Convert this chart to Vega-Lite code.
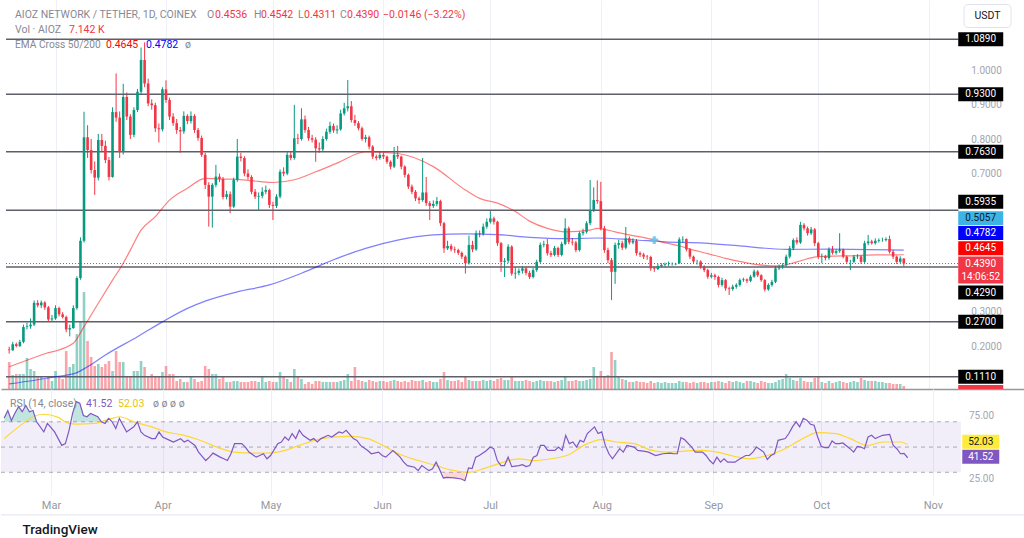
{
"$schema":"https://vega.github.io/schema/vega-lite/v6.json",
"padding":0,
"spacing":0,
"bounds":"flush",
"title":{"text":"TradingView","orient":"bottom","anchor":"start","dx":22,"offset":8,"fontSize":13.5,"fontWeight":500,"color":"#131722","font":"Roboto"},
"config":{"view":{"stroke":null},"font":"Roboto","axis":{"labelFont":"Roboto"},"text":{"align":"left","baseline":"middle","fontSize":10.5}},
"datasets":{
"candles":[
{"d":"2024-02-17","o":0.19,"h":0.198,"l":0.178,"c":0.188,"v":64.8},
{"d":"2024-02-18","o":0.188,"h":0.212,"l":0.186,"c":0.205,"v":33.6},
{"d":"2024-02-19","o":0.205,"h":0.21,"l":0.196,"c":0.2,"v":36},
{"d":"2024-02-20","o":0.2,"h":0.218,"l":0.197,"c":0.212,"v":36},
{"d":"2024-02-21","o":0.212,"h":0.262,"l":0.208,"c":0.255,"v":36},
{"d":"2024-02-22","o":0.255,"h":0.268,"l":0.248,"c":0.257,"v":74.4},
{"d":"2024-02-23","o":0.257,"h":0.28,"l":0.25,"c":0.262,"v":48},
{"d":"2024-02-24","o":0.262,"h":0.332,"l":0.258,"c":0.325,"v":43.2},
{"d":"2024-02-25","o":0.325,"h":0.333,"l":0.312,"c":0.318,"v":28.8},
{"d":"2024-02-26","o":0.318,"h":0.332,"l":0.31,"c":0.326,"v":31.2},
{"d":"2024-02-27","o":0.326,"h":0.33,"l":0.305,"c":0.312,"v":24},
{"d":"2024-02-28","o":0.312,"h":0.316,"l":0.272,"c":0.277,"v":28.8},
{"d":"2024-02-29","o":0.277,"h":0.29,"l":0.27,"c":0.28,"v":19.2},
{"d":"2024-03-01","o":0.28,"h":0.318,"l":0.276,"c":0.31,"v":43.2},
{"d":"2024-03-02","o":0.31,"h":0.314,"l":0.286,"c":0.292,"v":28.8},
{"d":"2024-03-03","o":0.292,"h":0.298,"l":0.28,"c":0.284,"v":24},
{"d":"2024-03-04","o":0.284,"h":0.288,"l":0.24,"c":0.248,"v":91.2},
{"d":"2024-03-05","o":0.248,"h":0.262,"l":0.228,"c":0.252,"v":52.8},
{"d":"2024-03-06","o":0.252,"h":0.318,"l":0.25,"c":0.31,"v":60},
{"d":"2024-03-07","o":0.31,"h":0.402,"l":0.305,"c":0.397,"v":132},
{"d":"2024-03-08","o":0.397,"h":0.515,"l":0.392,"c":0.505,"v":163.2},
{"d":"2024-03-09","o":0.505,"h":0.879,"l":0.5,"c":0.805,"v":232.8},
{"d":"2024-03-10","o":0.805,"h":0.84,"l":0.745,"c":0.768,"v":115.2},
{"d":"2024-03-11","o":0.768,"h":0.8,"l":0.7,"c":0.71,"v":76.8},
{"d":"2024-03-12","o":0.71,"h":0.735,"l":0.638,"c":0.688,"v":55.2},
{"d":"2024-03-13","o":0.688,"h":0.815,"l":0.68,"c":0.797,"v":60},
{"d":"2024-03-14","o":0.797,"h":0.815,"l":0.765,"c":0.78,"v":52.8},
{"d":"2024-03-15","o":0.78,"h":0.795,"l":0.73,"c":0.739,"v":60},
{"d":"2024-03-16","o":0.739,"h":0.748,"l":0.68,"c":0.69,"v":67.2},
{"d":"2024-03-17","o":0.69,"h":0.892,"l":0.688,"c":0.878,"v":43.2},
{"d":"2024-03-18","o":0.878,"h":0.99,"l":0.85,"c":0.862,"v":91.2},
{"d":"2024-03-19","o":0.862,"h":0.88,"l":0.745,"c":0.762,"v":64.8},
{"d":"2024-03-20","o":0.762,"h":0.96,"l":0.755,"c":0.922,"v":64.8},
{"d":"2024-03-21","o":0.922,"h":0.935,"l":0.855,"c":0.865,"v":31.2},
{"d":"2024-03-22","o":0.865,"h":0.872,"l":0.8,"c":0.812,"v":31.2},
{"d":"2024-03-23","o":0.812,"h":0.892,"l":0.805,"c":0.884,"v":43.2},
{"d":"2024-03-24","o":0.884,"h":0.945,"l":0.878,"c":0.937,"v":43.2},
{"d":"2024-03-25","o":0.937,"h":1.065,"l":0.93,"c":1.029,"v":67.2},
{"d":"2024-03-26","o":1.029,"h":1.08,"l":0.95,"c":0.961,"v":52.8},
{"d":"2024-03-27","o":0.961,"h":0.975,"l":0.895,"c":0.903,"v":31.2},
{"d":"2024-03-28","o":0.903,"h":0.915,"l":0.885,"c":0.898,"v":36},
{"d":"2024-03-29","o":0.898,"h":0.905,"l":0.82,"c":0.831,"v":31.2},
{"d":"2024-03-30","o":0.831,"h":0.845,"l":0.79,"c":0.828,"v":28.8},
{"d":"2024-03-31","o":0.828,"h":0.95,"l":0.822,"c":0.944,"v":40.8},
{"d":"2024-04-01","o":0.944,"h":0.97,"l":0.905,"c":0.913,"v":55.2},
{"d":"2024-04-02","o":0.913,"h":0.92,"l":0.855,"c":0.865,"v":36},
{"d":"2024-04-03","o":0.865,"h":0.875,"l":0.838,"c":0.846,"v":36},
{"d":"2024-04-04","o":0.846,"h":0.858,"l":0.815,"c":0.826,"v":19.2},
{"d":"2024-04-05","o":0.826,"h":0.835,"l":0.76,"c":0.822,"v":24},
{"d":"2024-04-06","o":0.822,"h":0.88,"l":0.815,"c":0.867,"v":16.8},
{"d":"2024-04-07","o":0.867,"h":0.872,"l":0.843,"c":0.852,"v":16.8},
{"d":"2024-04-08","o":0.852,"h":0.88,"l":0.845,"c":0.867,"v":28.8},
{"d":"2024-04-09","o":0.867,"h":0.872,"l":0.818,"c":0.826,"v":24},
{"d":"2024-04-10","o":0.826,"h":0.832,"l":0.795,"c":0.803,"v":16.8},
{"d":"2024-04-11","o":0.803,"h":0.81,"l":0.748,"c":0.754,"v":19.2},
{"d":"2024-04-12","o":0.754,"h":0.76,"l":0.655,"c":0.667,"v":55.2},
{"d":"2024-04-13","o":0.667,"h":0.675,"l":0.546,"c":0.633,"v":48},
{"d":"2024-04-14","o":0.633,"h":0.672,"l":0.543,"c":0.667,"v":36},
{"d":"2024-04-15","o":0.667,"h":0.725,"l":0.66,"c":0.691,"v":36},
{"d":"2024-04-16","o":0.691,"h":0.7,"l":0.675,"c":0.684,"v":24},
{"d":"2024-04-17","o":0.684,"h":0.69,"l":0.625,"c":0.632,"v":31.2},
{"d":"2024-04-18","o":0.632,"h":0.65,"l":0.625,"c":0.64,"v":16.8},
{"d":"2024-04-19","o":0.64,"h":0.648,"l":0.585,"c":0.604,"v":16.8},
{"d":"2024-04-20","o":0.604,"h":0.688,"l":0.6,"c":0.681,"v":19.2},
{"d":"2024-04-21","o":0.681,"h":0.8,"l":0.676,"c":0.749,"v":19.2},
{"d":"2024-04-22","o":0.749,"h":0.76,"l":0.735,"c":0.745,"v":16.8},
{"d":"2024-04-23","o":0.745,"h":0.75,"l":0.692,"c":0.7,"v":16.8},
{"d":"2024-04-24","o":0.7,"h":0.712,"l":0.682,"c":0.69,"v":16.8},
{"d":"2024-04-25","o":0.69,"h":0.695,"l":0.64,"c":0.647,"v":19.2},
{"d":"2024-04-26","o":0.647,"h":0.655,"l":0.626,"c":0.633,"v":19.2},
{"d":"2024-04-27","o":0.633,"h":0.645,"l":0.594,"c":0.635,"v":16.8},
{"d":"2024-04-28","o":0.635,"h":0.66,"l":0.628,"c":0.647,"v":28.8},
{"d":"2024-04-29","o":0.647,"h":0.665,"l":0.64,"c":0.652,"v":16.8},
{"d":"2024-04-30","o":0.652,"h":0.656,"l":0.6,"c":0.609,"v":19.2},
{"d":"2024-05-01","o":0.609,"h":0.618,"l":0.565,"c":0.606,"v":16.8},
{"d":"2024-05-02","o":0.606,"h":0.64,"l":0.6,"c":0.633,"v":16.8},
{"d":"2024-05-03","o":0.633,"h":0.712,"l":0.628,"c":0.705,"v":40.8},
{"d":"2024-05-04","o":0.705,"h":0.718,"l":0.692,"c":0.7,"v":28.8},
{"d":"2024-05-05","o":0.7,"h":0.762,"l":0.695,"c":0.754,"v":24},
{"d":"2024-05-06","o":0.754,"h":0.765,"l":0.738,"c":0.745,"v":16.8},
{"d":"2024-05-07","o":0.745,"h":0.899,"l":0.74,"c":0.802,"v":48},
{"d":"2024-05-08","o":0.802,"h":0.815,"l":0.785,"c":0.8,"v":28.8},
{"d":"2024-05-09","o":0.8,"h":0.889,"l":0.795,"c":0.857,"v":24},
{"d":"2024-05-10","o":0.857,"h":0.868,"l":0.818,"c":0.826,"v":12},
{"d":"2024-05-11","o":0.826,"h":0.835,"l":0.795,"c":0.802,"v":16.8},
{"d":"2024-05-12","o":0.802,"h":0.812,"l":0.79,"c":0.798,"v":12},
{"d":"2024-05-13","o":0.798,"h":0.805,"l":0.734,"c":0.773,"v":19.2},
{"d":"2024-05-14","o":0.773,"h":0.79,"l":0.76,"c":0.77,"v":19.2},
{"d":"2024-05-15","o":0.77,"h":0.808,"l":0.765,"c":0.8,"v":16.8},
{"d":"2024-05-16","o":0.8,"h":0.83,"l":0.795,"c":0.821,"v":16.8},
{"d":"2024-05-17","o":0.821,"h":0.85,"l":0.815,"c":0.838,"v":16.8},
{"d":"2024-05-18","o":0.838,"h":0.845,"l":0.818,"c":0.825,"v":16.8},
{"d":"2024-05-19","o":0.825,"h":0.84,"l":0.815,"c":0.828,"v":16.8},
{"d":"2024-05-20","o":0.828,"h":0.885,"l":0.824,"c":0.874,"v":19.2},
{"d":"2024-05-21","o":0.874,"h":0.905,"l":0.868,"c":0.889,"v":21.6},
{"d":"2024-05-22","o":0.889,"h":0.971,"l":0.88,"c":0.895,"v":36},
{"d":"2024-05-23","o":0.895,"h":0.91,"l":0.848,"c":0.855,"v":19.2},
{"d":"2024-05-24","o":0.855,"h":0.87,"l":0.838,"c":0.846,"v":52.8},
{"d":"2024-05-25","o":0.846,"h":0.852,"l":0.825,"c":0.831,"v":21.6},
{"d":"2024-05-26","o":0.831,"h":0.836,"l":0.795,"c":0.8,"v":19.2},
{"d":"2024-05-27","o":0.8,"h":0.812,"l":0.79,"c":0.805,"v":16.8},
{"d":"2024-05-28","o":0.805,"h":0.81,"l":0.77,"c":0.778,"v":21.6},
{"d":"2024-05-29","o":0.778,"h":0.782,"l":0.742,"c":0.749,"v":19.2},
{"d":"2024-05-30","o":0.749,"h":0.755,"l":0.738,"c":0.745,"v":16.8},
{"d":"2024-05-31","o":0.745,"h":0.762,"l":0.74,"c":0.754,"v":19.2},
{"d":"2024-06-01","o":0.754,"h":0.76,"l":0.742,"c":0.749,"v":19.2},
{"d":"2024-06-02","o":0.749,"h":0.752,"l":0.728,"c":0.734,"v":16.8},
{"d":"2024-06-03","o":0.734,"h":0.738,"l":0.712,"c":0.72,"v":19.2},
{"d":"2024-06-04","o":0.72,"h":0.777,"l":0.716,"c":0.754,"v":21.6},
{"d":"2024-06-05","o":0.754,"h":0.78,"l":0.742,"c":0.749,"v":19.2},
{"d":"2024-06-06","o":0.749,"h":0.752,"l":0.712,"c":0.72,"v":16.8},
{"d":"2024-06-07","o":0.72,"h":0.724,"l":0.688,"c":0.696,"v":19.2},
{"d":"2024-06-08","o":0.696,"h":0.7,"l":0.655,"c":0.662,"v":16.8},
{"d":"2024-06-09","o":0.662,"h":0.668,"l":0.64,"c":0.647,"v":21.6},
{"d":"2024-06-10","o":0.647,"h":0.652,"l":0.62,"c":0.628,"v":19.2},
{"d":"2024-06-11","o":0.628,"h":0.633,"l":0.612,"c":0.623,"v":19.2},
{"d":"2024-06-12","o":0.623,"h":0.745,"l":0.618,"c":0.645,"v":21.6},
{"d":"2024-06-13","o":0.645,"h":0.69,"l":0.606,"c":0.614,"v":16.8},
{"d":"2024-06-14","o":0.614,"h":0.62,"l":0.565,"c":0.606,"v":19.2},
{"d":"2024-06-15","o":0.606,"h":0.622,"l":0.6,"c":0.612,"v":16.8},
{"d":"2024-06-16","o":0.612,"h":0.632,"l":0.605,"c":0.62,"v":16.8},
{"d":"2024-06-17","o":0.62,"h":0.624,"l":0.548,"c":0.556,"v":24},
{"d":"2024-06-18","o":0.556,"h":0.56,"l":0.47,"c":0.483,"v":40.8},
{"d":"2024-06-19","o":0.483,"h":0.505,"l":0.478,"c":0.49,"v":21.6},
{"d":"2024-06-20","o":0.49,"h":0.496,"l":0.474,"c":0.48,"v":19.2},
{"d":"2024-06-21","o":0.48,"h":0.488,"l":0.47,"c":0.478,"v":19.2},
{"d":"2024-06-22","o":0.478,"h":0.482,"l":0.464,"c":0.47,"v":21.6},
{"d":"2024-06-23","o":0.47,"h":0.474,"l":0.452,"c":0.459,"v":16.8},
{"d":"2024-06-24","o":0.459,"h":0.463,"l":0.41,"c":0.44,"v":31.2},
{"d":"2024-06-25","o":0.44,"h":0.52,"l":0.436,"c":0.493,"v":21.6},
{"d":"2024-06-26","o":0.493,"h":0.505,"l":0.472,"c":0.48,"v":19.2},
{"d":"2024-06-27","o":0.48,"h":0.535,"l":0.476,"c":0.527,"v":19.2},
{"d":"2024-06-28","o":0.527,"h":0.535,"l":0.515,"c":0.525,"v":19.2},
{"d":"2024-06-29","o":0.525,"h":0.555,"l":0.52,"c":0.546,"v":21.6},
{"d":"2024-06-30","o":0.546,"h":0.57,"l":0.54,"c":0.56,"v":19.2},
{"d":"2024-07-01","o":0.56,"h":0.594,"l":0.555,"c":0.57,"v":21.6},
{"d":"2024-07-02","o":0.57,"h":0.575,"l":0.552,"c":0.56,"v":19.2},
{"d":"2024-07-03","o":0.56,"h":0.563,"l":0.49,"c":0.498,"v":24},
{"d":"2024-07-04","o":0.498,"h":0.502,"l":0.415,"c":0.444,"v":26.4},
{"d":"2024-07-05","o":0.444,"h":0.455,"l":0.4,"c":0.447,"v":21.6},
{"d":"2024-07-06","o":0.447,"h":0.495,"l":0.44,"c":0.488,"v":21.6},
{"d":"2024-07-07","o":0.488,"h":0.492,"l":0.404,"c":0.41,"v":31.2},
{"d":"2024-07-08","o":0.41,"h":0.428,"l":0.395,"c":0.412,"v":19.2},
{"d":"2024-07-09","o":0.412,"h":0.425,"l":0.405,"c":0.418,"v":19.2},
{"d":"2024-07-10","o":0.418,"h":0.432,"l":0.41,"c":0.425,"v":19.2},
{"d":"2024-07-11","o":0.425,"h":0.43,"l":0.405,"c":0.412,"v":21.6},
{"d":"2024-07-12","o":0.412,"h":0.418,"l":0.394,"c":0.4,"v":19.2},
{"d":"2024-07-13","o":0.4,"h":0.426,"l":0.396,"c":0.42,"v":16.8},
{"d":"2024-07-14","o":0.42,"h":0.45,"l":0.415,"c":0.444,"v":19.2},
{"d":"2024-07-15","o":0.444,"h":0.5,"l":0.44,"c":0.493,"v":21.6},
{"d":"2024-07-16","o":0.493,"h":0.505,"l":0.486,"c":0.495,"v":19.2},
{"d":"2024-07-17","o":0.495,"h":0.51,"l":0.462,"c":0.469,"v":19.2},
{"d":"2024-07-18","o":0.469,"h":0.476,"l":0.458,"c":0.464,"v":19.2},
{"d":"2024-07-19","o":0.464,"h":0.49,"l":0.46,"c":0.484,"v":16.8},
{"d":"2024-07-20","o":0.484,"h":0.488,"l":0.458,"c":0.464,"v":19.2},
{"d":"2024-07-21","o":0.464,"h":0.502,"l":0.46,"c":0.496,"v":21.6},
{"d":"2024-07-22","o":0.496,"h":0.57,"l":0.492,"c":0.541,"v":31.2},
{"d":"2024-07-23","o":0.541,"h":0.546,"l":0.495,"c":0.502,"v":19.2},
{"d":"2024-07-24","o":0.502,"h":0.512,"l":0.492,"c":0.5,"v":19.2},
{"d":"2024-07-25","o":0.5,"h":0.505,"l":0.472,"c":0.478,"v":21.6},
{"d":"2024-07-26","o":0.478,"h":0.532,"l":0.474,"c":0.527,"v":19.2},
{"d":"2024-07-27","o":0.527,"h":0.54,"l":0.52,"c":0.531,"v":19.2},
{"d":"2024-07-28","o":0.531,"h":0.562,"l":0.526,"c":0.556,"v":21.6},
{"d":"2024-07-29","o":0.556,"h":0.681,"l":0.55,"c":0.594,"v":24},
{"d":"2024-07-30","o":0.594,"h":0.66,"l":0.588,"c":0.623,"v":52.8},
{"d":"2024-07-31","o":0.623,"h":0.68,"l":0.612,"c":0.62,"v":28.8},
{"d":"2024-08-01","o":0.62,"h":0.676,"l":0.535,"c":0.541,"v":43.2},
{"d":"2024-08-02","o":0.541,"h":0.548,"l":0.47,"c":0.478,"v":28.8},
{"d":"2024-08-03","o":0.478,"h":0.485,"l":0.44,"c":0.449,"v":33.6},
{"d":"2024-08-04","o":0.449,"h":0.455,"l":0.333,"c":0.415,"v":88.8},
{"d":"2024-08-05","o":0.415,"h":0.5,"l":0.38,"c":0.493,"v":69.6},
{"d":"2024-08-06","o":0.493,"h":0.508,"l":0.482,"c":0.498,"v":28.8},
{"d":"2024-08-07","o":0.498,"h":0.505,"l":0.478,"c":0.485,"v":24},
{"d":"2024-08-08","o":0.485,"h":0.545,"l":0.48,"c":0.512,"v":21.6},
{"d":"2024-08-09","o":0.512,"h":0.518,"l":0.494,"c":0.5,"v":16.8},
{"d":"2024-08-10","o":0.5,"h":0.512,"l":0.495,"c":0.505,"v":16.8},
{"d":"2024-08-11","o":0.505,"h":0.51,"l":0.462,"c":0.469,"v":19.2},
{"d":"2024-08-12","o":0.469,"h":0.474,"l":0.458,"c":0.465,"v":16.8},
{"d":"2024-08-13","o":0.465,"h":0.47,"l":0.452,"c":0.459,"v":16.8},
{"d":"2024-08-14","o":0.459,"h":0.464,"l":0.45,"c":0.458,"v":14.4},
{"d":"2024-08-15","o":0.458,"h":0.462,"l":0.418,"c":0.425,"v":19.2},
{"d":"2024-08-16","o":0.425,"h":0.43,"l":0.415,"c":0.423,"v":14.4},
{"d":"2024-08-17","o":0.423,"h":0.438,"l":0.42,"c":0.432,"v":16.8},
{"d":"2024-08-18","o":0.432,"h":0.44,"l":0.428,"c":0.435,"v":14.4},
{"d":"2024-08-19","o":0.435,"h":0.442,"l":0.43,"c":0.437,"v":16.8},
{"d":"2024-08-20","o":0.437,"h":0.445,"l":0.432,"c":0.437,"v":14.4},
{"d":"2024-08-21","o":0.437,"h":0.442,"l":0.433,"c":0.437,"v":14.4},
{"d":"2024-08-22","o":0.437,"h":0.441,"l":0.434,"c":0.438,"v":14.4},
{"d":"2024-08-23","o":0.44,"h":0.515,"l":0.438,"c":0.509,"v":19.2},
{"d":"2024-08-24","o":0.509,"h":0.518,"l":0.5,"c":0.51,"v":16.8},
{"d":"2024-08-25","o":0.51,"h":0.512,"l":0.474,"c":0.48,"v":16.8},
{"d":"2024-08-26","o":0.48,"h":0.484,"l":0.452,"c":0.459,"v":14.4},
{"d":"2024-08-27","o":0.459,"h":0.462,"l":0.438,"c":0.445,"v":16.8},
{"d":"2024-08-28","o":0.445,"h":0.45,"l":0.436,"c":0.445,"v":14.4},
{"d":"2024-08-29","o":0.445,"h":0.448,"l":0.424,"c":0.43,"v":16.8},
{"d":"2024-08-30","o":0.43,"h":0.434,"l":0.414,"c":0.42,"v":16.8},
{"d":"2024-08-31","o":0.42,"h":0.424,"l":0.395,"c":0.401,"v":14.4},
{"d":"2024-09-01","o":0.401,"h":0.412,"l":0.396,"c":0.405,"v":16.8},
{"d":"2024-09-02","o":0.405,"h":0.41,"l":0.392,"c":0.4,"v":16.8},
{"d":"2024-09-03","o":0.4,"h":0.404,"l":0.37,"c":0.377,"v":19.2},
{"d":"2024-09-04","o":0.377,"h":0.398,"l":0.372,"c":0.391,"v":16.8},
{"d":"2024-09-05","o":0.391,"h":0.394,"l":0.36,"c":0.367,"v":14.4},
{"d":"2024-09-06","o":0.367,"h":0.372,"l":0.348,"c":0.365,"v":19.2},
{"d":"2024-09-07","o":0.365,"h":0.378,"l":0.36,"c":0.372,"v":16.8},
{"d":"2024-09-08","o":0.372,"h":0.382,"l":0.366,"c":0.377,"v":19.2},
{"d":"2024-09-09","o":0.377,"h":0.396,"l":0.372,"c":0.391,"v":16.8},
{"d":"2024-09-10","o":0.391,"h":0.398,"l":0.386,"c":0.393,"v":14.4},
{"d":"2024-09-11","o":0.393,"h":0.396,"l":0.382,"c":0.389,"v":19.2},
{"d":"2024-09-12","o":0.389,"h":0.406,"l":0.385,"c":0.401,"v":19.2},
{"d":"2024-09-13","o":0.401,"h":0.422,"l":0.398,"c":0.416,"v":16.8},
{"d":"2024-09-14","o":0.416,"h":0.42,"l":0.4,"c":0.405,"v":14.4},
{"d":"2024-09-15","o":0.405,"h":0.408,"l":0.386,"c":0.391,"v":19.2},
{"d":"2024-09-16","o":0.391,"h":0.394,"l":0.358,"c":0.364,"v":16.8},
{"d":"2024-09-17","o":0.364,"h":0.382,"l":0.36,"c":0.377,"v":14.4},
{"d":"2024-09-18","o":0.377,"h":0.392,"l":0.372,"c":0.386,"v":14.4},
{"d":"2024-09-19","o":0.386,"h":0.432,"l":0.382,"c":0.425,"v":16.8},
{"d":"2024-09-20","o":0.425,"h":0.436,"l":0.42,"c":0.43,"v":21.6},
{"d":"2024-09-21","o":0.43,"h":0.44,"l":0.424,"c":0.434,"v":24},
{"d":"2024-09-22","o":0.434,"h":0.465,"l":0.43,"c":0.459,"v":36},
{"d":"2024-09-23","o":0.459,"h":0.49,"l":0.454,"c":0.483,"v":26.4},
{"d":"2024-09-24","o":0.483,"h":0.512,"l":0.478,"c":0.507,"v":21.6},
{"d":"2024-09-25","o":0.507,"h":0.515,"l":0.494,"c":0.5,"v":19.2},
{"d":"2024-09-26","o":0.5,"h":0.56,"l":0.496,"c":0.551,"v":26.4},
{"d":"2024-09-27","o":0.551,"h":0.556,"l":0.535,"c":0.541,"v":19.2},
{"d":"2024-09-28","o":0.541,"h":0.546,"l":0.52,"c":0.527,"v":16.8},
{"d":"2024-09-29","o":0.527,"h":0.545,"l":0.522,"c":0.538,"v":16.8},
{"d":"2024-09-30","o":0.538,"h":0.542,"l":0.49,"c":0.498,"v":26.4},
{"d":"2024-10-01","o":0.498,"h":0.502,"l":0.452,"c":0.459,"v":28.8},
{"d":"2024-10-02","o":0.459,"h":0.468,"l":0.44,"c":0.46,"v":16.8},
{"d":"2024-10-03","o":0.46,"h":0.464,"l":0.448,"c":0.455,"v":14.4},
{"d":"2024-10-04","o":0.455,"h":0.486,"l":0.45,"c":0.48,"v":19.2},
{"d":"2024-10-05","o":0.48,"h":0.49,"l":0.465,"c":0.47,"v":14.4},
{"d":"2024-10-06","o":0.47,"h":0.48,"l":0.465,"c":0.475,"v":16.8},
{"d":"2024-10-07","o":0.475,"h":0.527,"l":0.47,"c":0.478,"v":19.2},
{"d":"2024-10-08","o":0.478,"h":0.482,"l":0.454,"c":0.459,"v":16.8},
{"d":"2024-10-09","o":0.459,"h":0.462,"l":0.438,"c":0.444,"v":14.4},
{"d":"2024-10-10","o":0.444,"h":0.45,"l":0.42,"c":0.444,"v":16.8},
{"d":"2024-10-11","o":0.444,"h":0.464,"l":0.44,"c":0.459,"v":19.2},
{"d":"2024-10-12","o":0.459,"h":0.466,"l":0.452,"c":0.46,"v":16.8},
{"d":"2024-10-13","o":0.46,"h":0.463,"l":0.438,"c":0.444,"v":26.4},
{"d":"2024-10-14","o":0.444,"h":0.505,"l":0.44,"c":0.498,"v":21.6},
{"d":"2024-10-15","o":0.498,"h":0.522,"l":0.492,"c":0.503,"v":19.2},
{"d":"2024-10-16","o":0.503,"h":0.508,"l":0.494,"c":0.498,"v":19.2},
{"d":"2024-10-17","o":0.498,"h":0.512,"l":0.494,"c":0.505,"v":19.2},
{"d":"2024-10-18","o":0.505,"h":0.512,"l":0.5,"c":0.507,"v":16.8},
{"d":"2024-10-19","o":0.507,"h":0.514,"l":0.502,"c":0.507,"v":16.8},
{"d":"2024-10-20","o":0.507,"h":0.515,"l":0.503,"c":0.51,"v":14.4},
{"d":"2024-10-21","o":0.51,"h":0.52,"l":0.468,"c":0.473,"v":14.4},
{"d":"2024-10-22","o":0.473,"h":0.478,"l":0.452,"c":0.459,"v":12},
{"d":"2024-10-23","o":0.459,"h":0.462,"l":0.438,"c":0.444,"v":12},
{"d":"2024-10-24","o":0.444,"h":0.46,"l":0.44,"c":0.4536,"v":12},
{"d":"2024-10-25","o":0.4536,"h":0.4542,"l":0.4311,"c":0.439,"v":7.142}
],
"ema50":[
{"d":"2024-02-17","e":0.14},{"d":"2024-02-26","e":0.174},{"d":"2024-03-06","e":0.208},{"d":"2024-03-09","e":0.256},{"d":"2024-03-13","e":0.324},{"d":"2024-03-17","e":0.391},{"d":"2024-03-20","e":0.44},{"d":"2024-03-22","e":0.478},{"d":"2024-03-25","e":0.536},{"d":"2024-03-29","e":0.575},{"d":"2024-04-02","e":0.623},{"d":"2024-04-07","e":0.657},{"d":"2024-04-12","e":0.686},{"d":"2024-04-16","e":0.684},{"d":"2024-04-21","e":0.683},{"d":"2024-04-27","e":0.677},{"d":"2024-05-01","e":0.674},{"d":"2024-05-07","e":0.682},{"d":"2024-05-13","e":0.705},{"d":"2024-05-19","e":0.73},{"d":"2024-05-27","e":0.763},{"d":"2024-06-05","e":0.758},{"d":"2024-06-15","e":0.72},{"d":"2024-06-24","e":0.652},{"d":"2024-06-28","e":0.628},{"d":"2024-07-03","e":0.614},{"d":"2024-07-08","e":0.59},{"d":"2024-07-12","e":0.562},{"d":"2024-07-17","e":0.541},{"d":"2024-07-22","e":0.531},{"d":"2024-07-29","e":0.536},{"d":"2024-07-31","e":0.541},{"d":"2024-08-05","e":0.531},{"d":"2024-08-09","e":0.522},{"d":"2024-08-14","e":0.512},{"d":"2024-08-18","e":0.502},{"d":"2024-08-23","e":0.49},{"d":"2024-08-27","e":0.478},{"d":"2024-08-31","e":0.468},{"d":"2024-09-05","e":0.454},{"d":"2024-09-10","e":0.443},{"d":"2024-09-14","e":0.436},{"d":"2024-09-20","e":0.432},{"d":"2024-09-25","e":0.444},{"d":"2024-10-01","e":0.459},{"d":"2024-10-08","e":0.461},{"d":"2024-10-17","e":0.464},{"d":"2024-10-25","e":0.4645}
],
"ema200":[
{"d":"2024-02-17","e":0.09},{"d":"2024-03-01","e":0.111},{"d":"2024-03-07","e":0.123},{"d":"2024-03-10","e":0.14},{"d":"2024-03-15","e":0.174},{"d":"2024-03-24","e":0.227},{"d":"2024-03-31","e":0.27},{"d":"2024-04-07","e":0.309},{"d":"2024-04-12","e":0.33},{"d":"2024-04-21","e":0.357},{"d":"2024-04-30","e":0.377},{"d":"2024-05-09","e":0.411},{"d":"2024-05-19","e":0.454},{"d":"2024-05-27","e":0.483},{"d":"2024-06-05","e":0.507},{"d":"2024-06-15","e":0.522},{"d":"2024-06-24","e":0.525},{"d":"2024-07-03","e":0.523},{"d":"2024-07-12","e":0.515},{"d":"2024-07-22","e":0.511},{"d":"2024-07-31","e":0.513},{"d":"2024-08-10","e":0.508},{"d":"2024-08-19","e":0.502},{"d":"2024-08-30","e":0.498},{"d":"2024-09-09","e":0.49},{"d":"2024-09-22","e":0.48},{"d":"2024-10-04","e":0.481},{"d":"2024-10-25","e":0.4782}
],
"rsi":[
{"d":"2024-02-17","r":73},{"d":"2024-02-18","r":79},{"d":"2024-02-19","r":71},{"d":"2024-02-20","r":77},{"d":"2024-02-21","r":82},{"d":"2024-02-22","r":78},{"d":"2024-02-23","r":83},{"d":"2024-02-24","r":78},{"d":"2024-02-25","r":79},{"d":"2024-02-26","r":70},{"d":"2024-02-28","r":62},{"d":"2024-02-29","r":68.7},
{"d":"2024-03-02","r":62},{"d":"2024-03-04","r":51.3},{"d":"2024-03-05","r":52.7},{"d":"2024-03-06","r":63},{"d":"2024-03-07","r":76.7},{"d":"2024-03-08","r":86},{"d":"2024-03-09","r":84.7},{"d":"2024-03-10","r":75},{"d":"2024-03-11","r":74},{"d":"2024-03-12","r":76.7},{"d":"2024-03-14","r":74},{"d":"2024-03-15","r":70},{"d":"2024-03-16","r":68.7},{"d":"2024-03-17","r":72.7},{"d":"2024-03-18","r":70},{"d":"2024-03-19","r":64.7},{"d":"2024-03-20","r":72.7},{"d":"2024-03-21","r":67.3},{"d":"2024-03-22","r":62},{"d":"2024-03-24","r":66},{"d":"2024-03-25","r":70},{"d":"2024-03-26","r":62},{"d":"2024-03-27","r":59.3},{"d":"2024-03-29","r":56.7},{"d":"2024-03-30","r":56.7},{"d":"2024-03-31","r":62},
{"d":"2024-04-01","r":58},{"d":"2024-04-03","r":55.3},{"d":"2024-04-04","r":54},{"d":"2024-04-06","r":56.7},{"d":"2024-04-07","r":54},{"d":"2024-04-08","r":55.5},{"d":"2024-04-10","r":51.3},{"d":"2024-04-11","r":46},{"d":"2024-04-13","r":39.3},{"d":"2024-04-14","r":42},{"d":"2024-04-15","r":45.2},{"d":"2024-04-17","r":42},{"d":"2024-04-18","r":40.7},{"d":"2024-04-19","r":39.3},{"d":"2024-04-20","r":44.7},{"d":"2024-04-21","r":52.7},{"d":"2024-04-23","r":52.7},{"d":"2024-04-24","r":50},{"d":"2024-04-25","r":46},{"d":"2024-04-27","r":42},{"d":"2024-04-28","r":43.3},{"d":"2024-04-29","r":44.7},{"d":"2024-04-30","r":40.7},
{"d":"2024-05-01","r":43.3},{"d":"2024-05-03","r":52.7},{"d":"2024-05-04","r":54},{"d":"2024-05-05","r":58},{"d":"2024-05-06","r":55.3},{"d":"2024-05-07","r":60.7},{"d":"2024-05-08","r":56.7},{"d":"2024-05-09","r":63.3},{"d":"2024-05-10","r":59.3},{"d":"2024-05-12","r":55.3},{"d":"2024-05-13","r":56.7},{"d":"2024-05-14","r":54},{"d":"2024-05-15","r":56.7},{"d":"2024-05-17","r":59.3},{"d":"2024-05-18","r":58},{"d":"2024-05-20","r":62},{"d":"2024-05-21","r":61},{"d":"2024-05-22","r":63.3},{"d":"2024-05-24","r":56.7},{"d":"2024-05-25","r":55.3},{"d":"2024-05-26","r":51.3},{"d":"2024-05-28","r":47.3},{"d":"2024-05-29","r":44.7},{"d":"2024-05-31","r":46},
{"d":"2024-06-01","r":43.3},{"d":"2024-06-02","r":42},{"d":"2024-06-04","r":47.3},{"d":"2024-06-06","r":42},{"d":"2024-06-07","r":38},{"d":"2024-06-08","r":35.3},{"d":"2024-06-10","r":34},{"d":"2024-06-11","r":31.3},{"d":"2024-06-12","r":35.3},{"d":"2024-06-14","r":31.3},{"d":"2024-06-15","r":32.7},{"d":"2024-06-16","r":38},{"d":"2024-06-17","r":32},{"d":"2024-06-18","r":25.5},{"d":"2024-06-19","r":26},{"d":"2024-06-21","r":25.5},{"d":"2024-06-23","r":24.7},{"d":"2024-06-24","r":23.3},{"d":"2024-06-25","r":33.5},{"d":"2024-06-26","r":33},{"d":"2024-06-27","r":42},{"d":"2024-06-28","r":43.3},{"d":"2024-06-30","r":47.3},
{"d":"2024-07-01","r":50},{"d":"2024-07-02","r":48.7},{"d":"2024-07-03","r":39.3},{"d":"2024-07-04","r":35.3},{"d":"2024-07-05","r":35.3},{"d":"2024-07-06","r":42},{"d":"2024-07-07","r":34.5},{"d":"2024-07-09","r":35.3},{"d":"2024-07-10","r":36},{"d":"2024-07-11","r":34.5},{"d":"2024-07-12","r":35.3},{"d":"2024-07-13","r":42},{"d":"2024-07-14","r":43.3},{"d":"2024-07-15","r":51.3},{"d":"2024-07-16","r":51.3},{"d":"2024-07-17","r":47.3},{"d":"2024-07-19","r":47.3},{"d":"2024-07-20","r":50},{"d":"2024-07-21","r":47.3},{"d":"2024-07-22","r":59.3},{"d":"2024-07-23","r":52.7},{"d":"2024-07-24","r":54},{"d":"2024-07-25","r":50},{"d":"2024-07-26","r":55.3},{"d":"2024-07-27","r":54},{"d":"2024-07-28","r":60.7},{"d":"2024-07-30","r":66},{"d":"2024-07-31","r":60.7},
{"d":"2024-08-01","r":62},{"d":"2024-08-02","r":51.3},{"d":"2024-08-03","r":44.7},{"d":"2024-08-04","r":40.7},{"d":"2024-08-06","r":48.7},{"d":"2024-08-07","r":46},{"d":"2024-08-08","r":51.3},{"d":"2024-08-10","r":50},{"d":"2024-08-11","r":47.3},{"d":"2024-08-13","r":46.5},{"d":"2024-08-14","r":46},{"d":"2024-08-16","r":43.3},{"d":"2024-08-17","r":44},{"d":"2024-08-18","r":44.7},{"d":"2024-08-20","r":45.2},{"d":"2024-08-21","r":44.7},{"d":"2024-08-22","r":44.7},{"d":"2024-08-23","r":57.5},{"d":"2024-08-24","r":55.9},{"d":"2024-08-26","r":50},{"d":"2024-08-27","r":46},{"d":"2024-08-29","r":46},{"d":"2024-08-30","r":43.3},{"d":"2024-08-31","r":39.3},
{"d":"2024-09-01","r":36.7},{"d":"2024-09-02","r":42},{"d":"2024-09-03","r":38},{"d":"2024-09-04","r":40.7},{"d":"2024-09-05","r":38},{"d":"2024-09-07","r":38},{"d":"2024-09-08","r":39.9},{"d":"2024-09-10","r":43.3},{"d":"2024-09-11","r":43.3},{"d":"2024-09-12","r":46},{"d":"2024-09-13","r":50},{"d":"2024-09-15","r":46},{"d":"2024-09-16","r":40.1},{"d":"2024-09-17","r":43.3},{"d":"2024-09-18","r":44.7},{"d":"2024-09-19","r":55.3},{"d":"2024-09-21","r":56.7},{"d":"2024-09-22","r":60.7},{"d":"2024-09-23","r":66},{"d":"2024-09-24","r":70},{"d":"2024-09-25","r":66},{"d":"2024-09-26","r":72.7},{"d":"2024-09-27","r":71.3},{"d":"2024-09-28","r":68.1},{"d":"2024-09-29","r":67.3},{"d":"2024-09-30","r":58},
{"d":"2024-10-01","r":50.5},{"d":"2024-10-02","r":49.5},{"d":"2024-10-03","r":49.5},{"d":"2024-10-04","r":54.8},{"d":"2024-10-05","r":52.7},{"d":"2024-10-06","r":52.7},{"d":"2024-10-07","r":53.2},{"d":"2024-10-09","r":48.7},{"d":"2024-10-10","r":46},{"d":"2024-10-11","r":50.5},{"d":"2024-10-12","r":50},{"d":"2024-10-13","r":48.7},{"d":"2024-10-14","r":58},{"d":"2024-10-15","r":59.3},{"d":"2024-10-16","r":56.7},{"d":"2024-10-18","r":59.3},{"d":"2024-10-20","r":60.1},{"d":"2024-10-21","r":51.3},{"d":"2024-10-22","r":48.7},{"d":"2024-10-23","r":44.7},{"d":"2024-10-24","r":45},{"d":"2024-10-25","r":41.52}
],
"rsima":[
{"d":"2024-02-17","m":56.7},{"d":"2024-02-21","m":66},{"d":"2024-02-25","m":74},{"d":"2024-02-28","m":76},{"d":"2024-03-03","m":73.5},{"d":"2024-03-06","m":68.7},{"d":"2024-03-08","m":68.2},{"d":"2024-03-13","m":68.7},{"d":"2024-03-17","m":71.9},{"d":"2024-03-20","m":74},{"d":"2024-03-24","m":70},{"d":"2024-03-29","m":66},{"d":"2024-04-02","m":62},{"d":"2024-04-07","m":59.3},{"d":"2024-04-12","m":54.8},{"d":"2024-04-16","m":50},{"d":"2024-04-21","m":46},{"d":"2024-04-26","m":45.2},{"d":"2024-04-30","m":45.2},{"d":"2024-05-05","m":47.3},{"d":"2024-05-09","m":51.3},{"d":"2024-05-14","m":55.9},{"d":"2024-05-19","m":58},{"d":"2024-05-23","m":58.5},{"d":"2024-05-28","m":56.7},{"d":"2024-06-02","m":50},{"d":"2024-06-06","m":44.1},{"d":"2024-06-11","m":39.3},{"d":"2024-06-16","m":35.3},{"d":"2024-06-20","m":31.9},{"d":"2024-06-25","m":30},{"d":"2024-06-29","m":32.7},{"d":"2024-07-04","m":37.5},{"d":"2024-07-09","m":40.7},{"d":"2024-07-13","m":39.3},{"d":"2024-07-18","m":40.7},{"d":"2024-07-23","m":44.1},{"d":"2024-07-27","m":51.3},{"d":"2024-08-01","m":55.9},{"d":"2024-08-05","m":54},{"d":"2024-08-10","m":52.7},{"d":"2024-08-15","m":47.3},{"d":"2024-08-19","m":46},{"d":"2024-08-24","m":46.8},{"d":"2024-08-29","m":47.3},{"d":"2024-09-02","m":46},{"d":"2024-09-07","m":42.5},{"d":"2024-09-11","m":40.7},{"d":"2024-09-16","m":43.3},{"d":"2024-09-21","m":48.7},{"d":"2024-09-25","m":55.3},{"d":"2024-09-30","m":61.5},{"d":"2024-10-05","m":60.7},{"d":"2024-10-09","m":56.7},{"d":"2024-10-14","m":51.3},{"d":"2024-10-18","m":54},{"d":"2024-10-23","m":54},{"d":"2024-10-25","m":52.03}
],
"ob1":[{"d":"2024-02-17","r":73},{"d":"2024-02-18","r":79},{"d":"2024-02-19","r":71},{"d":"2024-02-20","r":77},{"d":"2024-02-21","r":82},{"d":"2024-02-22","r":78},{"d":"2024-02-23","r":83},{"d":"2024-02-24","r":78},{"d":"2024-02-25","r":79},{"d":"2024-02-26","r":70}],
"ob2":[{"d":"2024-03-07","r":76.7},{"d":"2024-03-08","r":86},{"d":"2024-03-09","r":84.7},{"d":"2024-03-10","r":75},{"d":"2024-03-11","r":74},{"d":"2024-03-12","r":76.7},{"d":"2024-03-14","r":74},{"d":"2024-03-15","r":70}],
"os1":[{"d":"2024-06-18","r":25.5},{"d":"2024-06-19","r":26},{"d":"2024-06-21","r":25.5},{"d":"2024-06-23","r":24.7},{"d":"2024-06-24","r":23.3}],
"levels":[{"p":1.089},{"p":0.93},{"p":0.763},{"p":0.5935},{"p":0.429},{"p":0.27},{"p":0.111}],
"tags":[{"p":1.089,"t":"1.0890"},{"p":0.93,"t":"0.9300"},{"p":0.763,"t":"0.7630"},{"p":0.27,"t":"0.2700"},{"p":0.111,"t":"0.1110"}],
"rsilev":[{"r":70},{"r":50},{"r":30}],
"cross":[{"d":"2024-08-16","p":0.507}]
},
"vconcat":[
{
"width":1024,"height":389,
"layer":[
{"data":{"name":"candles"},"mark":{"type":"bar","size":2.6,"opacity":0.45},
 "encoding":{"x":{"field":"d","type":"temporal",
   "scale":{"domain":[{"year":2024,"month":2,"date":16,"hours":2,"minutes":40,"utc":true},{"year":2024,"month":11,"date":26,"hours":14,"minutes":24,"utc":true}]},
   "axis":{"title":null,"labels":false,"ticks":false,"domain":true,"domainColor":"#9598a1","domainWidth":1.5,"grid":true,"gridColor":"#eef0f5",
     "values":[{"year":2024,"month":3,"date":1,"utc":true},{"year":2024,"month":4,"date":1,"utc":true},{"year":2024,"month":5,"date":1,"utc":true},{"year":2024,"month":6,"date":1,"utc":true},{"year":2024,"month":7,"date":1,"utc":true},{"year":2024,"month":8,"date":1,"utc":true},{"year":2024,"month":9,"date":1,"utc":true},{"year":2024,"month":10,"date":1,"utc":true},{"year":2024,"month":11,"date":1,"utc":true}]}},
  "y":{"field":"v","type":"quantitative","scale":{"domain":[0,933.6],"nice":false},"axis":null},
  "color":{"condition":{"test":"datum.c >= datum.o","value":"#089981"},"value":"#f23645"}}},
{"layer":[
 {"data":{"name":"candles"},"mark":{"type":"rule","strokeWidth":1},
  "encoding":{"x":{"field":"d","type":"temporal"},
   "y":{"field":"l","type":"quantitative","scale":{"domain":[0.0754,1.2029],"zero":false,"nice":false},
    "axis":{"orient":"right","offset":-39,"values":[0.2,0.3,0.7,0.8,0.9,1.0],"format":".4f","labelAlign":"center","labelPadding":0,"ticks":false,"tickSize":0,"domain":false,"grid":false,"title":null,"labelColor":"#a3a6af","labelFontSize":10}},
   "y2":{"field":"h"},
   "color":{"condition":{"test":"datum.c >= datum.o","value":"#089981"},"value":"#f23645"}}},
 {"data":{"name":"levels"},"mark":{"type":"rule","color":"#5d606b","strokeWidth":1.5},
  "encoding":{"x":{"datum":{"year":2024,"month":2,"date":16,"hours":2,"minutes":40,"utc":true},"type":"temporal"},
   "x2":{"datum":{"year":2024,"month":11,"date":9,"hours":8,"utc":true}},
   "y":{"field":"p","type":"quantitative"}}},
 {"data":{"values":[{}]},"mark":{"type":"rule","color":"#f23645","strokeWidth":1,"strokeDash":[1,2]},
  "encoding":{"x":{"datum":{"year":2024,"month":2,"date":16,"hours":2,"minutes":40,"utc":true},"type":"temporal"},
   "x2":{"datum":{"year":2024,"month":11,"date":9,"hours":8,"utc":true}},
   "y":{"datum":0.439,"type":"quantitative"}}},
 {"data":{"name":"ema200"},"mark":{"type":"line","color":"#0000ff","opacity":0.5,"strokeWidth":1.2,"interpolate":"monotone"},
  "encoding":{"x":{"field":"d","type":"temporal"},"y":{"field":"e","type":"quantitative"}}},
 {"data":{"name":"ema50"},"mark":{"type":"line","color":"#ff0000","opacity":0.5,"strokeWidth":1.2,"interpolate":"monotone"},
  "encoding":{"x":{"field":"d","type":"temporal"},"y":{"field":"e","type":"quantitative"}}},
 {"data":{"name":"candles"},"mark":{"type":"bar","size":2.6},
  "encoding":{"x":{"field":"d","type":"temporal"},"y":{"field":"o","type":"quantitative"},"y2":{"field":"c"},
   "color":{"condition":{"test":"datum.c >= datum.o","value":"#089981"},"value":"#f23645"}}},
 {"data":{"name":"cross"},"mark":{"type":"point","shape":"cross","size":60,"filled":true,"color":"#5ec2f0","opacity":0.85},
  "encoding":{"x":{"field":"d","type":"temporal"},"y":{"field":"p","type":"quantitative"}}},
 {"data":{"name":"tags"},"mark":{"type":"tick","orient":"horizontal","size":45,"thickness":14,"color":"#000000","opacity":1},
  "encoding":{"x":{"datum":{"year":2024,"month":11,"date":15,"hours":14,"utc":true},"type":"temporal"},"y":{"field":"p","type":"quantitative"}}},
 {"data":{"name":"tags"},"mark":{"type":"text","color":"#ffffff","fontSize":10,"align":"center","baseline":"middle"},
  "encoding":{"x":{"datum":{"year":2024,"month":11,"date":15,"hours":14,"utc":true},"type":"temporal"},"y":{"field":"p","type":"quantitative"},"text":{"field":"t"}}},
 {"data":{"values":[{}]},"layer":[
  {"mark":{"type":"tick","orient":"horizontal","size":45,"thickness":14,"color":"#000000","opacity":1,"yOffset":-8.5},"encoding":{"y":{"datum":0.5935}}},
  {"mark":{"type":"text","text":"0.5935","color":"#ffffff","fontSize":10,"align":"center","baseline":"middle","dy":-8.5},"encoding":{"y":{"datum":0.5935}}},
  {"mark":{"type":"tick","orient":"horizontal","size":45,"thickness":14,"color":"#3db4e6","opacity":1,"yOffset":-22.2},"encoding":{"y":{"datum":0.5057}}},
  {"mark":{"type":"text","text":"0.5057","color":"#131722","fontSize":10,"align":"center","baseline":"middle","dy":-22.2},"encoding":{"y":{"datum":0.5057}}},
  {"mark":{"type":"tick","orient":"horizontal","size":45,"thickness":14,"color":"#0000ff","opacity":1,"yOffset":-17},"encoding":{"y":{"datum":0.4782}}},
  {"mark":{"type":"text","text":"0.4782","color":"#ffffff","fontSize":10,"align":"center","baseline":"middle","dy":-17},"encoding":{"y":{"datum":0.4782}}},
  {"mark":{"type":"tick","orient":"horizontal","size":45,"thickness":14,"color":"#ff0000","opacity":1,"yOffset":-6.4},"encoding":{"y":{"datum":0.4645}}},
  {"mark":{"type":"text","text":"0.4645","color":"#ffffff","fontSize":10,"align":"center","baseline":"middle","dy":-6.4},"encoding":{"y":{"datum":0.4645}}},
  {"mark":{"type":"tick","orient":"horizontal","size":45,"thickness":27,"color":"#f23645","opacity":1,"yOffset":6.5},"encoding":{"y":{"datum":0.439}}},
  {"mark":{"type":"text","text":"0.4390","color":"#ffffff","fontSize":10,"align":"center","baseline":"middle","dy":0},"encoding":{"y":{"datum":0.439}}},
  {"mark":{"type":"text","text":"14:06:52","color":"#ffffff","fontSize":10,"align":"center","baseline":"middle","dy":13.3},"encoding":{"y":{"datum":0.439}}},
  {"mark":{"type":"tick","orient":"horizontal","size":45,"thickness":14,"color":"#000000","opacity":1,"yOffset":25.5},"encoding":{"y":{"datum":0.429}}},
  {"mark":{"type":"text","text":"0.4290","color":"#ffffff","fontSize":10,"align":"center","baseline":"middle","dy":25.5},"encoding":{"y":{"datum":0.429}}},
  {"mark":{"type":"tick","orient":"horizontal","size":45,"thickness":14,"color":"#f23645","opacity":1,"clip":true},"encoding":{"y":{"datum":0.0667}}}
 ],
 "encoding":{"x":{"datum":{"year":2024,"month":11,"date":15,"hours":14,"utc":true},"type":"temporal"}}},
 {"data":{"values":[{}]},"layer":[
  {"mark":{"type":"tick","orient":"horizontal","size":47,"thickness":23,"color":"#ffffff","stroke":"#e0e3eb","strokeWidth":1,"cornerRadius":4,"opacity":1}},
  {"mark":{"type":"text","text":"USDT","color":"#131722","fontSize":10.5,"align":"center","baseline":"middle"}}
 ],
 "encoding":{"x":{"datum":{"year":2024,"month":11,"date":17,"hours":12,"utc":true},"type":"temporal"},"y":{"datum":1.1565,"type":"quantitative"}}},
 {"data":{"values":[{}]},"layer":[
  {"mark":{"type":"text","text":"AIOZ NETWORK / TETHER, 1D, COINEX","dx":9,"color":"#868993"},"encoding":{"y":{"datum":1.1594}}},
  {"mark":{"type":"text","text":"O","dx":201,"color":"#868993"},"encoding":{"y":{"datum":1.1594}}},
  {"mark":{"type":"text","text":"0.4536","dx":209,"color":"#f23645"},"encoding":{"y":{"datum":1.1594}}},
  {"mark":{"type":"text","text":"H","dx":248,"color":"#868993"},"encoding":{"y":{"datum":1.1594}}},
  {"mark":{"type":"text","text":"0.4542","dx":255,"color":"#f23645"},"encoding":{"y":{"datum":1.1594}}},
  {"mark":{"type":"text","text":"L","dx":292,"color":"#868993"},"encoding":{"y":{"datum":1.1594}}},
  {"mark":{"type":"text","text":"0.4311","dx":298,"color":"#f23645"},"encoding":{"y":{"datum":1.1594}}},
  {"mark":{"type":"text","text":"C","dx":334,"color":"#868993"},"encoding":{"y":{"datum":1.1594}}},
  {"mark":{"type":"text","text":"0.4390","dx":341,"color":"#f23645"},"encoding":{"y":{"datum":1.1594}}},
  {"mark":{"type":"text","text":"−0.0146 (−3.22%)","dx":377,"color":"#f23645"},"encoding":{"y":{"datum":1.1594}}},
  {"mark":{"type":"text","text":"Vol · AIOZ","dx":9,"color":"#868993"},"encoding":{"y":{"datum":1.1159}}},
  {"mark":{"type":"text","text":"7.142 K","dx":63,"color":"#f23645"},"encoding":{"y":{"datum":1.1159}}},
  {"mark":{"type":"text","text":"EMA Cross 50/200","dx":9,"color":"#868993","fontSize":10.2},"encoding":{"y":{"datum":1.0725}}},
  {"mark":{"type":"text","text":"0.4645","dx":100,"color":"#ff0000"},"encoding":{"y":{"datum":1.0725}}},
  {"mark":{"type":"text","text":"0.4782","dx":140,"color":"#0000ff"},"encoding":{"y":{"datum":1.0725}}},
  {"mark":{"type":"text","text":"ø","dx":179,"color":"#868993"},"encoding":{"y":{"datum":1.0725}}}
 ],
 "encoding":{"x":{"datum":{"year":2024,"month":2,"date":16,"hours":2,"minutes":40,"utc":true},"type":"temporal"}}}
]}
],
"resolve":{"scale":{"y":"independent"}}
},
{
"width":1024,"height":106,
"layer":[
 {"data":{"values":[{}]},"mark":{"type":"rect","color":"#7e57c2","opacity":0.1},
  "encoding":{"x":{"datum":{"year":2024,"month":2,"date":16,"hours":2,"minutes":40,"utc":true},"type":"temporal",
    "scale":{"domain":[{"year":2024,"month":2,"date":16,"hours":2,"minutes":40,"utc":true},{"year":2024,"month":11,"date":26,"hours":14,"minutes":24,"utc":true}]},
    "axis":{"title":null,"format":"%b","labelColor":"#9598a1","labelFontSize":11,"labelPadding":4,"domain":false,"ticks":false,"grid":true,"gridColor":"#eef0f5","labelFlush":false,
     "values":[{"year":2024,"month":3,"date":1,"utc":true},{"year":2024,"month":4,"date":1,"utc":true},{"year":2024,"month":5,"date":1,"utc":true},{"year":2024,"month":6,"date":1,"utc":true},{"year":2024,"month":7,"date":1,"utc":true},{"year":2024,"month":8,"date":1,"utc":true},{"year":2024,"month":9,"date":1,"utc":true},{"year":2024,"month":10,"date":1,"utc":true},{"year":2024,"month":11,"date":1,"utc":true}]}},
   "x2":{"datum":{"year":2024,"month":11,"date":8,"hours":18,"minutes":40,"utc":true}},
   "y":{"datum":70,"type":"quantitative","scale":{"domain":[12,96],"zero":false,"nice":false},
    "axis":{"orient":"right","offset":-44,"values":[25,75],"format":".2f","labelAlign":"center","labelPadding":0,"ticks":false,"tickSize":0,"domain":false,"grid":false,"title":null,"labelColor":"#a3a6af","labelFontSize":10}},
   "y2":{"datum":30}}},
 {"data":{"name":"rsilev"},"mark":{"type":"rule","color":"#787b86","opacity":0.6,"strokeDash":[4,4],"strokeWidth":1},
  "encoding":{"x":{"datum":{"year":2024,"month":2,"date":16,"hours":2,"minutes":40,"utc":true},"type":"temporal"},
   "x2":{"datum":{"year":2024,"month":11,"date":8,"hours":18,"minutes":40,"utc":true}},
   "y":{"field":"r","type":"quantitative"}}},
 {"data":{"values":[{}]},"mark":{"type":"rule","color":"#e0e3eb","strokeWidth":1},
  "encoding":{"x":{"datum":{"year":2024,"month":2,"date":16,"hours":2,"minutes":40,"utc":true},"type":"temporal"},
   "x2":{"datum":{"year":2024,"month":11,"date":26,"hours":14,"minutes":24,"utc":true}},
   "y":{"datum":-3.8,"type":"quantitative"}}},
 {"data":{"name":"ob1"},"mark":{"type":"area","color":"#089981","opacity":0.25},
  "encoding":{"x":{"field":"d","type":"temporal"},"y":{"field":"r","type":"quantitative"},"y2":{"datum":70}}},
 {"data":{"name":"ob2"},"mark":{"type":"area","color":"#089981","opacity":0.25},
  "encoding":{"x":{"field":"d","type":"temporal"},"y":{"field":"r","type":"quantitative"},"y2":{"datum":70}}},
 {"data":{"name":"os1"},"mark":{"type":"area","color":"#f23645","opacity":0.2},
  "encoding":{"x":{"field":"d","type":"temporal"},"y":{"field":"r","type":"quantitative"},"y2":{"datum":30}}},
 {"data":{"name":"rsima"},"mark":{"type":"line","color":"#fdd835","strokeWidth":1.2,"interpolate":"monotone"},
  "encoding":{"x":{"field":"d","type":"temporal"},"y":{"field":"m","type":"quantitative"}}},
 {"data":{"name":"rsi"},"mark":{"type":"line","color":"#7e57c2","strokeWidth":1.2},
  "encoding":{"x":{"field":"d","type":"temporal"},"y":{"field":"r","type":"quantitative"}}},
 {"data":{"values":[{}]},"layer":[
  {"mark":{"type":"tick","orient":"horizontal","size":37,"thickness":14,"color":"#ffeb3b","opacity":1,"yOffset":-2.8},"encoding":{"y":{"datum":52.03}}},
  {"mark":{"type":"text","text":"52.03","color":"#131722","fontSize":10,"align":"center","baseline":"middle","dy":-2.8},"encoding":{"y":{"datum":52.03}}},
  {"mark":{"type":"tick","orient":"horizontal","size":37,"thickness":14,"color":"#7e57c2","opacity":1,"yOffset":-1},"encoding":{"y":{"datum":41.52}}},
  {"mark":{"type":"text","text":"41.52","color":"#ffffff","fontSize":10,"align":"center","baseline":"middle","dy":-1},"encoding":{"y":{"datum":41.52}}}
 ],
 "encoding":{"x":{"datum":{"year":2024,"month":11,"date":14,"hours":7,"minutes":30,"utc":true},"type":"temporal"}}},
 {"data":{"values":[{}]},"layer":[
  {"mark":{"type":"text","text":"RSI (14, close)","dx":9,"color":"#868993"}},
  {"mark":{"type":"text","text":"41.52","dx":85,"color":"#7e57c2"}},
  {"mark":{"type":"text","text":"52.03","dx":117,"color":"#e6c700"}},
  {"mark":{"type":"text","text":"ø ø ø ø","dx":152,"color":"#868993"}}
 ],
 "encoding":{"x":{"datum":{"year":2024,"month":2,"date":16,"hours":2,"minutes":40,"utc":true},"type":"temporal"},"y":{"datum":84,"type":"quantitative"}}}
]
}
]
}
